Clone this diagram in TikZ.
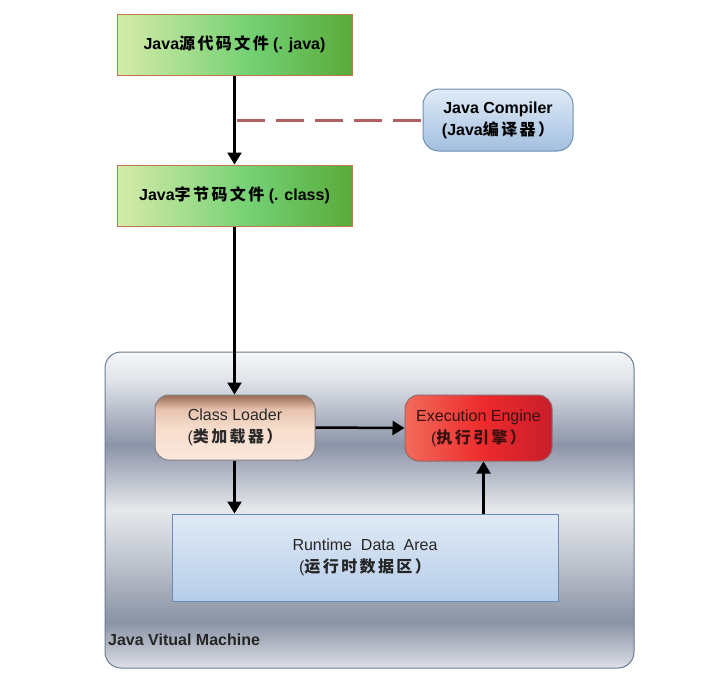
\documentclass[tikz,border=0pt]{standalone}
\usepackage{fontspec}
\setmainfont{Liberation Sans}
\newfontfamily\cjk{Noto Sans CJK SC}
\usetikzlibrary{arrows.meta}
\definecolor{m0}{HTML}{F6F7F9}
\definecolor{m1}{HTML}{E0E3E9}
\definecolor{m2}{HTML}{8C94A8}
\definecolor{m3}{HTML}{E6E8EC}
\definecolor{m4}{HTML}{C0C5CF}
\definecolor{m5}{HTML}{8A92A4}
\definecolor{m6}{HTML}{CDD1DA}
\definecolor{m7}{HTML}{E0E2E8}
\definecolor{g0}{HTML}{D6EBAA}
\definecolor{g1}{HTML}{72D072}
\definecolor{g2}{HTML}{5AAA3A}
\definecolor{r0}{HTML}{F26A5A}
\definecolor{r1}{HTML}{EC2A2C}
\definecolor{r2}{HTML}{C81E2A}
\definecolor{c0}{HTML}{9A6A52}
\definecolor{c1}{HTML}{E6C2AE}
\definecolor{c2}{HTML}{F6DCCB}
\definecolor{c3}{HTML}{FBE8DD}
\definecolor{b0}{HTML}{E0EBF7}
\definecolor{b1}{HTML}{A2BFE0}
\definecolor{d0}{HTML}{E0EAF6}
\definecolor{d1}{HTML}{B6CDE9}
\definecolor{greenedge}{HTML}{C07A48}
\definecolor{blueedge}{HTML}{6F8FB0}
\definecolor{rdaedge}{HTML}{6A8BB8}
\definecolor{jvmedge}{HTML}{6A7A90}
\definecolor{dashred}{HTML}{B06060}
\definecolor{cltext}{HTML}{2A2A2A}
\definecolor{eetext}{HTML}{3A1010}
\pgfdeclareverticalshading{metal}{100bp}{color(0bp)=(m7); color(25bp)=(m7); color(26.3bp)=(m6); color(32.3bp)=(m5); color(42.1bp)=(m4); color(50bp)=(m3); color(60.3bp)=(m2); color(70.6bp)=(m1); color(75bp)=(m0); color(100bp)=(m0)}
\pgfdeclarehorizontalshading{greenbox}{100bp}{color(0bp)=(g0); color(25bp)=(g0); color(54bp)=(g1); color(75bp)=(g2); color(100bp)=(g2)}
\pgfdeclarehorizontalshading{redbox}{100bp}{color(0bp)=(r0); color(25bp)=(r0); color(52bp)=(r1); color(75bp)=(r2); color(100bp)=(r2)}
\pgfdeclareverticalshading{peach}{100bp}{color(0bp)=(c3); color(25bp)=(c3); color(50bp)=(c2); color(64bp)=(c1); color(75bp)=(c0); color(100bp)=(c0)}
\pgfdeclareverticalshading{bluebox}{100bp}{color(0bp)=(b1); color(25bp)=(b1); color(75bp)=(b0); color(100bp)=(b0)}
\pgfdeclareverticalshading{rdabox}{100bp}{color(0bp)=(d1); color(25bp)=(d1); color(75bp)=(d0); color(100bp)=(d0)}
\newcommand{\zh}[1]{{\cjk\bfseries\addfontfeature{LetterSpace=15}#1}}
\begin{document}
\begin{tikzpicture}[x=1pt,y=-1pt,
  txt/.style={font=\fontsize{16}{22}\selectfont, align=center, inner sep=0pt},
  filebox/.style={txt, font=\fontsize{16}{22}\selectfont\bfseries, draw=greenedge, line width=1pt, shading=greenbox, minimum width=235pt, minimum height=61pt},
  compbox/.style={txt, font=\fontsize{16}{22}\selectfont\bfseries, draw=blueedge, line width=1pt, shading=bluebox, rounded corners=16pt, minimum width=150pt, minimum height=62pt},
  clbox/.style={txt, text=cltext, draw=gray, line width=1pt, shading=peach, rounded corners=14pt, minimum width=160pt, minimum height=65pt},
  eebox/.style={txt, text=eetext, draw=gray!80!red, line width=1pt, shading=redbox, rounded corners=14pt, minimum width=147pt, minimum height=66pt},
  rdabox/.style={txt, text=black!85, draw=rdaedge, line width=1pt, shading=rdabox, minimum width=386pt, minimum height=87pt},
  jvmbox/.style={draw=jvmedge, line width=1pt, shading=metal, rounded corners=16pt, minimum width=529pt, minimum height=316pt, inner sep=0pt},
  arr/.style={line width=2.5pt, -{Triangle[length=12pt,width=14pt]}},
  dashline/.style={draw=dashred, line width=3pt, dash pattern=on 28pt off 11pt}
]
\useasboundingbox (0,0) rectangle (727,678);
\fill[white] (0,0) rectangle (727,678);
\node[jvmbox] (jvm) at (369.5,510) {};
\node[txt, font=\fontsize{16}{19}\selectfont\bfseries, anchor=west, text=black!85] (jvmlabel) at (108,640) {Java Vitual Machine};
\node[filebox] (src) at (234.5,44.5) {Java\zh{源代码文件} (. java)};
\node[filebox] (cls) at (234.5,195.5) {Java\zh{字节码文件} (. class)};
\node[compbox] (comp) at (498,120) {Java Compiler\\(Java\zh{编译器）}};
\node[clbox] (cl) at (235,427.5) {Class Loader\\(\zh{类加载器）}};
\node[eebox] (ee) at (478.5,428) {Execution Engine\\(\zh{执行引擎）}};
\node[rdabox] (rda) at (365,557.5) {Runtime\ \ Data\ \ Area\\(\zh{运行时数据区）}};
\coordinate (dl) at (237,120);
\draw[arr] (src.south) -- (cls.north);
\draw[dashline] (dl) -- (comp.west);
\draw[arr] (cls.south) -- (cls.south |- cl.north);
\draw[arr] (cl.east) -- (ee.west);
\draw[arr] (cl.south -| cls.south) -- (cls.south |- rda.north);
\draw[arr] ([xshift=5pt]ee.south |- rda.north) -- ([xshift=5pt]ee.south);
\end{tikzpicture}
\end{document}
